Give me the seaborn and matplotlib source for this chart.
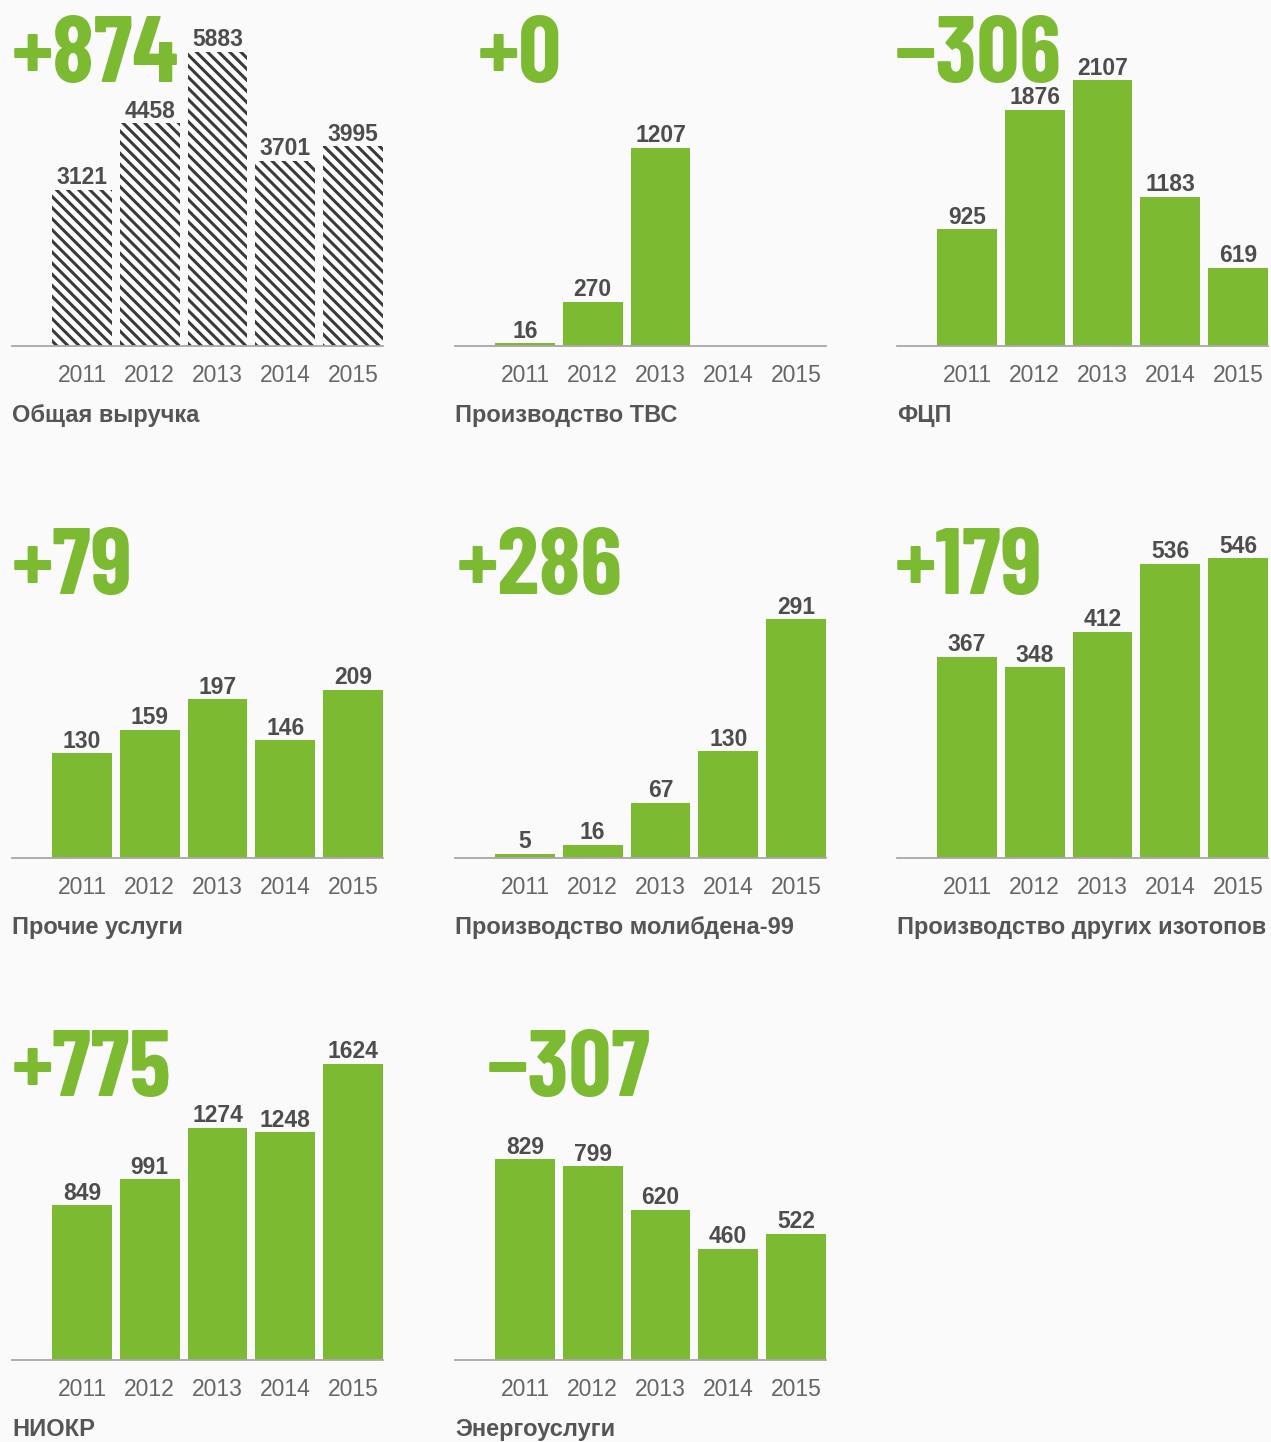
import numpy as np
import pandas as pd
import matplotlib
matplotlib.use("Agg")
import matplotlib.pyplot as plt
import seaborn as sns

# data
years = ["2011", "2012", "2013", "2014", "2015"]
titles = ["Общая выручка", "Производство ТВС", "ФЦП",
          "Прочие услуги", "Производство молибдена-99", "Производство других изотопов",
          "НИОКР", "Энергоуслуги"]
deltas = ["+874", "+0", "−306", "+79", "+286", "+179", "+775", "−307"]
revenue_total = [3121, 4458, 5883, 3701, 3995]
fuel_assemblies = [16, 270, 1207, np.nan, np.nan]
fcp = [925, 1876, 2107, 1183, 619]
other_services = [130, 159, 197, 146, 209]
molybdenum = [5, 16, 67, 130, 291]
other_isotopes = [367, 348, 412, 536, 546]
rnd = [849, 991, 1274, 1248, 1624]
energy = [829, 799, 620, 460, 522]
series = [revenue_total, fuel_assemblies, fcp, other_services,
          molybdenum, other_isotopes, rnd, energy]

# per-panel y scale (each panel has its own)
ymax = [6200, 1885, 2460, 385, 378, 565, 1700, 1280]
delta_dx = [0, 23, -2, 0, 2, -2, 0, 32]

GREEN = "#7cba32"
BG = "#fafafa"
W, H = 1271, 1442

sns.set_theme(style="white")
plt.rcParams["font.family"] = ["Liberation Sans", "DejaVu Sans"]
plt.rcParams["hatch.linewidth"] = 2.2

fig = plt.figure(figsize=(W / 100, H / 100), dpi=100, facecolor=BG)

col_x = [12, 455, 897]
row_base = [346, 858, 1360]
ax_w, ax_h = 371, 310

for i, vals in enumerate(series):
    r, c = divmod(i, 3)
    left = col_x[c]
    base = row_base[r]
    ax = fig.add_axes([left / W, 1 - base / H, ax_w / W, ax_h / H])
    ax.set_facecolor("none")
    df = pd.DataFrame({"year": years, "value": vals})
    hatched = i == 0
    sns.barplot(data=df, x="year", y="value", order=years, ax=ax,
                color="white" if hatched else GREEN, saturation=1,
                width=0.885, linewidth=0, errorbar=None)
    if hatched:
        for p in ax.patches:
            p.set_hatch("\\\\\\")
            p.set_edgecolor("#3a3a3a")
            p.set_linewidth(0)
    for k, v in enumerate(vals):
        if np.isnan(v):
            continue
        ax.annotate(f"{v:g}", (k, v), xytext=(0, 4), textcoords="offset points",
                    ha="center", va="baseline", fontsize=16.5, fontweight="bold",
                    color="#4d4d4d")
    ax.set_xlim(-1.033, 4.443)
    ax.set_ylim(0, ymax[i])
    ax.set_xlabel("")
    ax.set_ylabel("")
    ax.set_yticks([])
    ax.tick_params(axis="x", length=0, pad=13, labelsize=16.5, labelcolor="#666666")
    for s in ["top", "right", "left"]:
        ax.spines[s].set_visible(False)
    ax.spines["bottom"].set_color("#a8a8a8")
    ax.spines["bottom"].set_linewidth(1.3)

    fig.text((left + delta_dx[i]) / W, 1 - (base - 264) / H, deltas[i],
             fontsize=68, fontweight="bold", color=GREEN,
             family=["Barlow Condensed", "DejaVu Sans"],
             ha="left", va="baseline")
    fig.text(left / W, 1 - (base + 76) / H, titles[i], fontsize=17,
             fontweight="bold", color="#555555", ha="left", va="baseline")

fig.savefig("out.png", dpi=100, facecolor=BG)
